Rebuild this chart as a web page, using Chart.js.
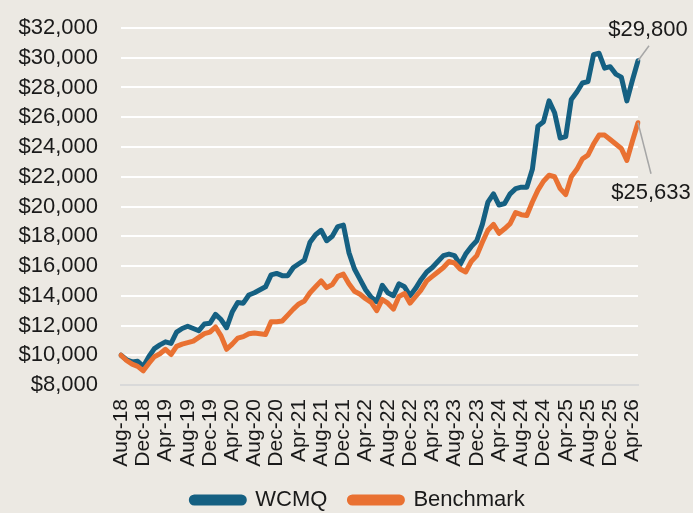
<!DOCTYPE html>
<html>
<head>
<meta charset="utf-8">
<script src="https://cdn.jsdelivr.net/npm/chart.js@4/dist/chart.umd.min.js"></script>
<style>
  html, body { margin: 0; padding: 0; background: #ECE9E3; }
  canvas { display: block; }
</style>
</head>
<body>
<canvas id="growth-chart" width="693" height="513"></canvas>
<script>
// monthly, Aug-18 .. May-26
const months = [
  "Aug-18", "Sep-18", "Oct-18", "Nov-18", "Dec-18",
  "Jan-19", "Feb-19", "Mar-19", "Apr-19", "May-19", "Jun-19", "Jul-19", "Aug-19", "Sep-19", "Oct-19", "Nov-19", "Dec-19",
  "Jan-20", "Feb-20", "Mar-20", "Apr-20", "May-20", "Jun-20", "Jul-20", "Aug-20", "Sep-20", "Oct-20", "Nov-20", "Dec-20",
  "Jan-21", "Feb-21", "Mar-21", "Apr-21", "May-21", "Jun-21", "Jul-21", "Aug-21", "Sep-21", "Oct-21", "Nov-21", "Dec-21",
  "Jan-22", "Feb-22", "Mar-22", "Apr-22", "May-22", "Jun-22", "Jul-22", "Aug-22", "Sep-22", "Oct-22", "Nov-22", "Dec-22",
  "Jan-23", "Feb-23", "Mar-23", "Apr-23", "May-23", "Jun-23", "Jul-23", "Aug-23", "Sep-23", "Oct-23", "Nov-23", "Dec-23",
  "Jan-24", "Feb-24", "Mar-24", "Apr-24", "May-24", "Jun-24", "Jul-24", "Aug-24", "Sep-24", "Oct-24", "Nov-24", "Dec-24",
  "Jan-25", "Feb-25", "Mar-25", "Apr-25", "May-25", "Jun-25", "Jul-25", "Aug-25", "Sep-25", "Oct-25", "Nov-25", "Dec-25",
  "Jan-26", "Feb-26", "Mar-26", "Apr-26", "May-26"
];

const wcmq = [
  10000, 9700, 9550, 9600, 9250,
  9900, 10450, 10700, 10900, 10800, 11550, 11800, 11950, 11800, 11650, 12100, 12150,
  12750, 12400, 11850, 12900, 13550, 13500, 14050, 14200, 14400, 14600, 15400, 15500,
  15350, 15350, 15900, 16150, 16400, 17600, 18100, 18400, 17700, 18000, 18650, 18750,
  16900, 15800, 15100, 14400, 13900, 13600, 14700, 14200, 14000, 14800, 14600, 14000,
  14500, 15100, 15600, 15900, 16300, 16700, 16800, 16700, 16100, 16800, 17300, 17700,
  18800, 20300, 20850, 20100, 20200, 20850, 21200, 21300, 21300, 22500, 25400, 25700,
  27100, 26300, 24600, 24700, 27200, 27700, 28300, 28400, 30200, 30300, 29300, 29400,
  28900, 28700, 27100, 28500, 29800
];

const benchmark = [
  10000, 9650, 9400, 9250, 8950,
  9450, 9900, 10100, 10400, 10050, 10600, 10750, 10850, 10950, 11200, 11450, 11550,
  11900, 11300, 10400, 10750, 11150, 11250, 11450, 11500, 11450, 11400, 12250, 12250,
  12300, 12700, 13100, 13450, 13650, 14200, 14600, 15000, 14550, 14750, 15300, 15450,
  14800, 14300, 14100, 13800, 13550, 13000, 13750, 13500, 13100, 13950, 14150, 13500,
  13950, 14400, 15000, 15300, 15600, 15900, 16300, 16200, 15800, 15600, 16300, 16700,
  17600, 18400, 18800, 18200, 18500, 18850, 19600, 19450, 19400, 20300, 21100, 21700,
  22100, 22000, 21200, 20800, 22000, 22500, 23200, 23450, 24200, 24800, 24800, 24500,
  24200, 23900, 23100, 24400, 25633
];

const yTicks = { min: 8000, max: 32000, step: 2000 };

const blue = "#156082";
const orange = "#E97132";
const fontName = "'Liberation Sans', Arial, sans-serif";

const money = (v) => "$" + Math.round(v).toLocaleString("en-US");

// end-of-line value labels with a short grey leader
const endLabels = {
  id: "endLabels",
  afterDatasetsDraw(chart) {
    const ctx = chart.ctx;
    const offsets = [
      { lx: 11, ly: -15, tx: 10, ty: -31 },
      { lx: 13, ly: 51, tx: 13, ty: 70 },
    ];
    chart.data.datasets.forEach((ds, i) => {
      const meta = chart.getDatasetMeta(i);
      const pt = meta.data[meta.data.length - 1];
      const o = offsets[i];
      ctx.save();
      ctx.strokeStyle = "#A6A6A6";
      ctx.lineWidth = 1.5;
      ctx.beginPath();
      ctx.moveTo(pt.x, pt.y);
      ctx.lineTo(pt.x + o.lx, pt.y + o.ly);
      ctx.stroke();
      ctx.fillStyle = "#1a1a1a";
      ctx.font = "22px " + fontName;
      ctx.textAlign = "center";
      ctx.textBaseline = "middle";
      ctx.fillText(money(ds.data[ds.data.length - 1]), pt.x + o.tx, pt.y + o.ty);
      ctx.restore();
    });
  },
};

// legend sits centred a bit right of the canvas middle
const nudgeLegend = {
  id: "nudgeLegend",
  afterLayout(chart) {
    chart.legend.left += 39;
    chart.legend.right += 39;
  },
};

Chart.defaults.font.family = fontName;
Chart.defaults.font.size = 21;
Chart.defaults.color = "#1a1a1a";

new Chart(document.getElementById("growth-chart"), {
  type: "line",
  data: {
    labels: months,
    datasets: [
      {
        label: "WCMQ",
        data: wcmq,
        borderColor: blue,
        backgroundColor: blue,
        borderWidth: 5,
        order: 1,
      },
      {
        label: "Benchmark",
        data: benchmark,
        borderColor: orange,
        backgroundColor: orange,
        borderWidth: 5,
        order: 0,
      },
    ],
  },
  options: {
    responsive: false,
    animation: false,
    devicePixelRatio: 1,
    elements: {
      point: { radius: 0 },
      line: { tension: 0, borderJoinStyle: "round", borderCapStyle: "round" },
    },
    layout: { padding: { top: 28, right: 55, left: 0, bottom: -8 } },
    plugins: {
      tooltip: { enabled: false },
      legend: {
        position: "bottom",
        labels: {
          boxWidth: 53,
          boxHeight: 6,
          useBorderRadius: true,
          borderRadius: 3,
          padding: 22,
          font: { size: 22 },
          color: "#1a1a1a",
          sort: (a, b) => a.datasetIndex - b.datasetIndex,
        },
      },
    },
    scales: {
      x: {
        offset: false,
        grid: { display: false, drawTicks: false },
        border: { display: true, color: "#D9D9D9", width: 2 },
        ticks: {
          autoSkip: false,
          minRotation: 90,
          maxRotation: 90,
          padding: 14,
          font: { size: 21 },
          callback: function (val, idx) {
            return idx % 4 === 0 ? months[idx] : null;
          },
        },
        afterFit: (s) => { s.height = 82; },
      },
      y: {
        min: yTicks.min,
        max: yTicks.max,
        grid: { color: "#FFFFFF", lineWidth: 2, drawTicks: false },
        border: { display: false },
        ticks: {
          stepSize: yTicks.step,
          autoSkip: false,
          padding: 23,
          font: { size: 22 },
          callback: (v) => money(v),
        },
        afterFit: (s) => {
          s.width = 121;
          s.paddingTop = 0;
          s.paddingBottom = 0;
        },
      },
    },
  },
  plugins: [endLabels, nudgeLegend],
});
</script>
</body>
</html>
